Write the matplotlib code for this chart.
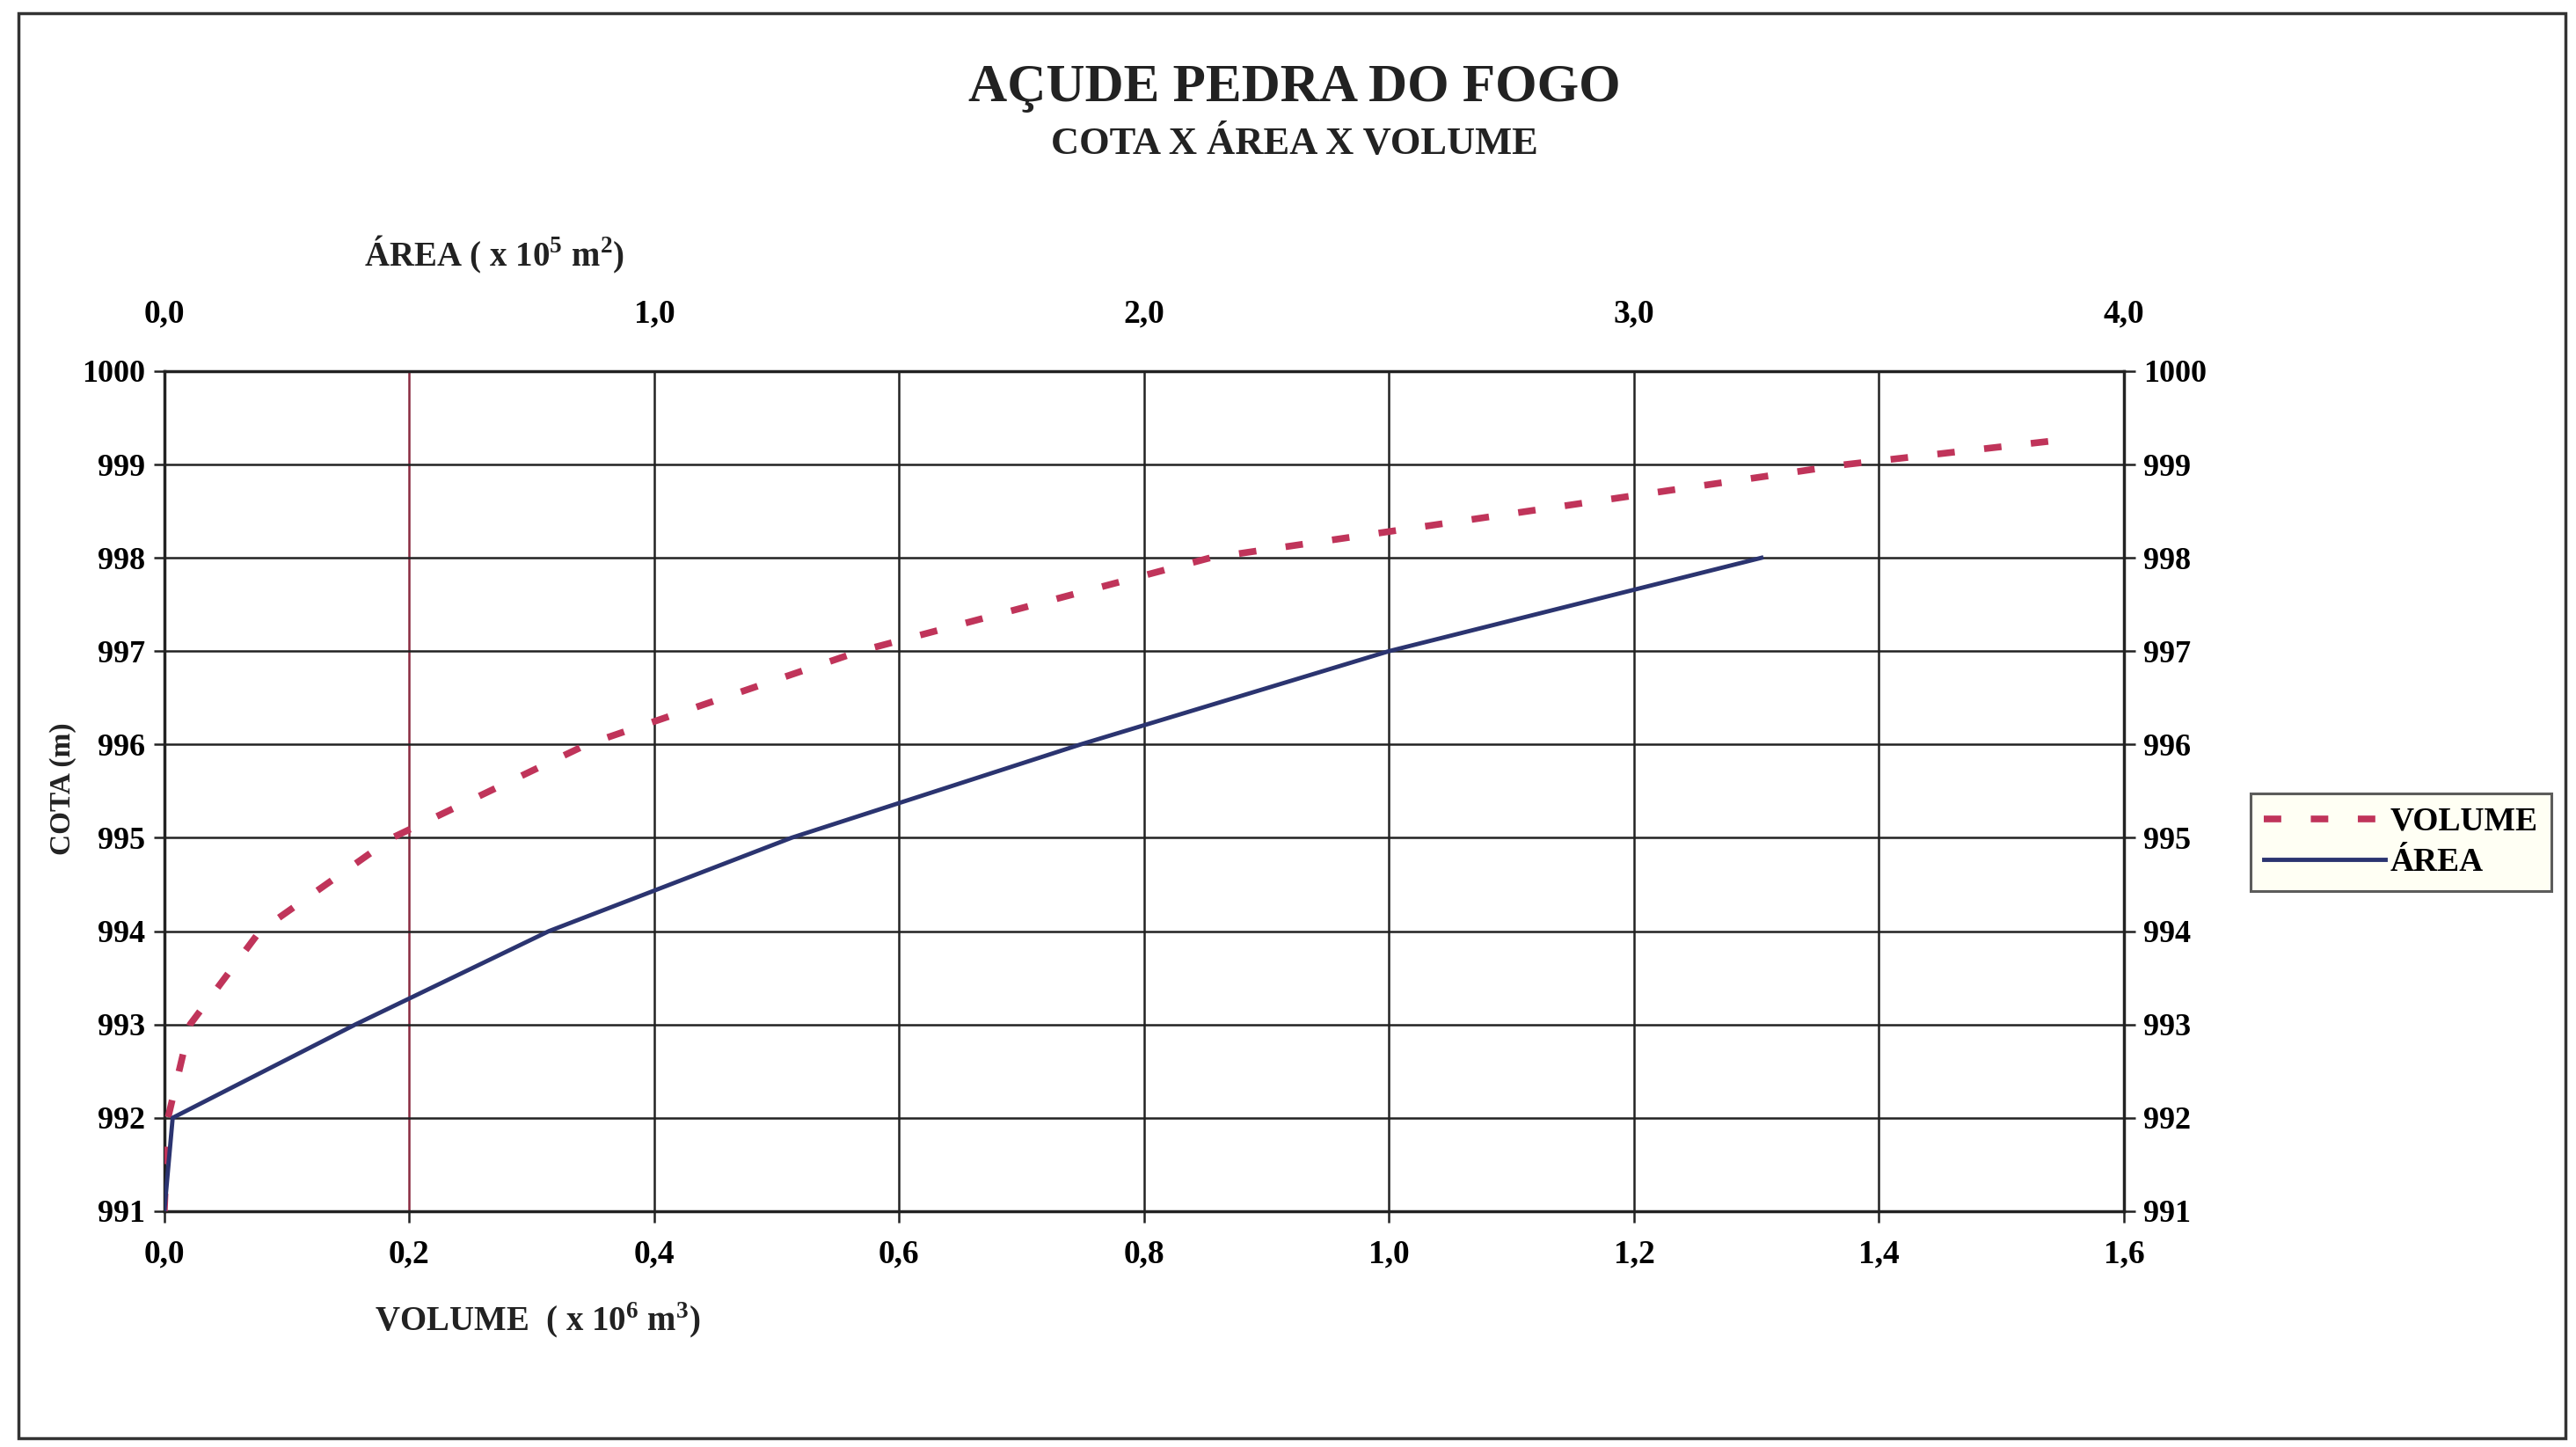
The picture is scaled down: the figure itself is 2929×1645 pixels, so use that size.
import matplotlib
matplotlib.use('Agg')
import matplotlib.pyplot as plt
from matplotlib.patches import Rectangle
from matplotlib.lines import Line2D

# cota-volume curve (volume in 10^6 m3)
cota_vol = [991, 992, 993, 994, 995, 996, 997, 998, 999, 999.25]
volume = [0.0, 0.003, 0.021, 0.078, 0.186, 0.345, 0.568, 0.854, 1.373, 1.54]

# cota-area curve (area in 10^5 m2)
cota_area = [991, 992, 993, 994, 995, 996, 997, 998]
area = [0.0, 0.017, 0.39, 0.785, 1.28, 1.87, 2.5, 3.26]

vol_ticks = [0.0, 0.2, 0.4, 0.6, 0.8, 1.0, 1.2, 1.4, 1.6]
area_ticks = [0.0, 1.0, 2.0, 3.0, 4.0]
cota_ticks = list(range(991, 1001))

serif = 'Liberation Serif'
plt.rcParams['font.family'] = serif
plt.rcParams['font.weight'] = 'bold'
plt.rcParams['mathtext.fontset'] = 'custom'
plt.rcParams['mathtext.rm'] = serif + ':bold'
plt.rcParams['mathtext.bf'] = serif + ':bold'

vol_color = '#c0345a'
area_color = '#2b3470'
vol_dash = (0, (2.6, 4.4))

fig = plt.figure(figsize=(29.29, 16.45), dpi=100)
ax = fig.add_axes([0.0638, 0.163, 0.7607, 0.5805])

ax.plot(volume, cota_vol, color=vol_color, lw=5.5, ls=vol_dash,
        label='VOLUME', zorder=3)
ax.set_xlim(0, 1.6)
ax.set_ylim(991, 1000)
ax.set_xticks(vol_ticks)
ax.set_xticklabels([f'{v:.1f}'.replace('.', ',') for v in vol_ticks])
ax.set_yticks(cota_ticks)
ax.grid(True, color='#222222', lw=1.8)
ax.tick_params(axis='both', length=9, width=1.8, color='#222222')
ax.tick_params(axis='x', labelsize=27, pad=14)
ax.tick_params(axis='y', labelsize=26, pad=7, right=True, labelright=True)
for s in ax.spines.values():
    s.set_linewidth(2.5)
    s.set_color('#222222')
# the 0,2 gridline comes out reddish in the scan
ax.get_xgridlines()[1].set_color('#8a2a40')

ax2 = ax.twiny()
ax2.plot(area, cota_area, color=area_color, lw=3.5, label='ÁREA', zorder=3)
ax2.set_xlim(0, 4.0)
ax2.set_xticks(area_ticks)
ax2.set_xticklabels([f'{a:.1f}'.replace('.', ',') for a in area_ticks])
ax2.tick_params(axis='x', labelsize=27, length=0, pad=34)
for s in ax2.spines.values():
    s.set_visible(False)

fig.text(0.5025, 0.939, 'AÇUDE PEDRA DO FOGO', ha='center', va='center',
         fontsize=44, fontweight='bold', color='#222222')
fig.text(0.5025, 0.900, 'COTA X ÁREA X VOLUME', ha='center', va='center',
         fontsize=32, fontweight='bold', color='#222222')
fig.text(0.1415, 0.824, r'ÁREA ( x 10$^{5}$ m$^{2}$)', ha='left', va='center',
         fontsize=28, fontweight='bold', color='#222222')
fig.text(0.1455, 0.087, r'VOLUME  ( x 10$^{6}$ m$^{3}$)', ha='left', va='center',
         fontsize=28, fontweight='bold', color='#222222')
fig.text(0.0245, 0.455, 'COTA (m)', ha='center', va='center', rotation=90,
         fontsize=24, fontweight='bold', color='#222222')

handles = [Line2D([], [], color=vol_color, lw=5.5, ls=vol_dash),
           Line2D([], [], color=area_color, lw=3.5)]
leg = fig.legend(handles, ['VOLUME', 'ÁREA'], loc='center',
                 bbox_to_anchor=(0.932, 0.418), fontsize=27, frameon=True,
                 fancybox=False, handlelength=3.7, handletextpad=0.15,
                 borderpad=0.4, labelspacing=0.3, borderaxespad=0)
leg.get_frame().set_facecolor('#fffff2')
leg.get_frame().set_edgecolor('#333333')
leg.get_frame().set_linewidth(2.2)

fig.patches.append(Rectangle((0.007, 0.006), 0.989, 0.985, transform=fig.transFigure,
                             fill=False, edgecolor='#333333', lw=2.5))

fig.savefig('out.png', dpi=100, facecolor='white')
